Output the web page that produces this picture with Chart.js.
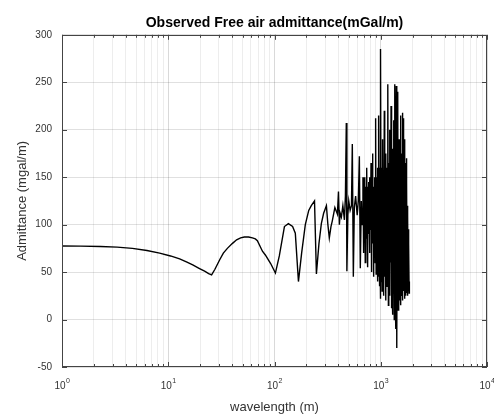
<!DOCTYPE html>
<html>
<head>
<meta charset="utf-8">
<script src="https://cdn.jsdelivr.net/npm/chart.js@4.4.0/dist/chart.umd.min.js"></script>
<style>
  body { margin: 0; background: #fff; }
  #wrap { width: 494px; height: 416px; }
</style>
</head>
<body>
<div id="wrap"><canvas id="admittanceChart"></canvas></div>
<script>
// wavelength (m) and observed free air admittance (mGal/m)
const wavelength = [
  1, 1.5, 2.3, 3.3, 4.6, 6.3, 8.3, 10.5, 12.8, 15, 17, 19.5, 22, 24, 25.6, 27.5, 30.5, 33, 36, 40, 44, 48,
  52, 57, 62, 66, 69, 77, 82, 92, 102, 111, 124, 135, 148, 157, 168,
  180, 195, 210, 222, 238, 248, 262, 276, 290, 308, 318, 328, 340, 350, 370, 391, 400, 408,
  415, 426, 440, 455, 465, 474, 480, 490, 500, 515, 530, 540, 552, 564, 580, 600, 615, 629, 642, 656, 668, 680, 690,
  700, 705, 710, 715, 720, 725, 730, 735, 740, 745, 750, 755, 760, 765, 770, 775, 780, 785, 790, 795,
  800, 805, 810, 815, 820, 825, 830, 835, 840, 845, 850, 855, 860, 865, 870, 875, 880, 885, 890, 895,
  900, 905, 910, 915, 920, 925, 930, 935, 940, 945, 950, 955, 960, 965, 970, 975, 980, 985, 990, 995, 1000,
  1010, 1020, 1030, 1040, 1050, 1060, 1070, 1080, 1090, 1100, 1110, 1120, 1130, 1140, 1150, 1160, 1170, 1180,
  1190, 1200, 1210, 1220, 1230, 1240, 1250, 1260, 1270, 1280, 1290, 1300, 1310, 1320, 1330, 1340, 1350, 1360,
  1370, 1380, 1390, 1400, 1410, 1420, 1430, 1440, 1450, 1460, 1470, 1480, 1490, 1500, 1510, 1520, 1530, 1540,
  1550, 1560, 1570, 1580, 1590, 1600, 1610, 1620, 1630, 1640, 1650, 1660, 1670, 1680, 1690, 1700, 1710, 1720,
  1730, 1740, 1750, 1760, 1770, 1780, 1790, 1800, 1810, 1820, 1830, 1840, 1850, 1860
];
const admittance = [
  77.5, 77.4, 77, 76.3, 75, 72.8, 70, 67, 64, 60.5, 57.5, 54, 51, 48.5, 47, 53, 63, 70, 75, 80, 84, 86,
  87, 87, 86, 85, 83, 72, 68, 59, 49, 67, 98, 101, 98, 91, 40,
  70, 100, 115, 120, 125, 48, 80, 101, 112, 120, 100, 86, 98, 104, 118, 111, 135, 100,
  112, 108, 120, 105, 130, 207, 51, 110, 125, 115, 120, 185, 45, 118, 130, 110, 125, 172, 54, 125, 100, 150, 70,
  150, 90, 135, 60, 140, 95, 130, 85, 160, 100, 140, 55, 135, 90, 145, 100, 130, 70, 150, 95,
  140, 105, 165, 50, 130, 90, 145, 100, 175, 80, 135, 45, 140, 95, 150, 85, 130, 60, 145, 100,
  212, 48, 140, 90, 150, 75, 135, 40, 160, 95, 140, 45, 215, 90, 160, 35, 150, 70, 180, 22, 285,
  40, 160, 30, 190, 60, 150, 25, 220, 45, 140, 20, 175, 70, 160, 35, 130, 248, 15,
  165, 40, 200, 25, 150, 60, 225, 12, 140, 30, 180, 5, 160, 45, 210, 0, 130, 248,
  20, -10, 165, 246, 30, -30, 150, 25, 240, 10, 170, 35, 190, 20, 160, 40, 215, 15,
  150, 30, 175, 25, 140, 218, 20, 160, 35, 212, 30, 150, 22, 190, 40, 165, 25, 150,
  35, 170, 28, 145, 40, 120, 25, 110, 35, 95, 30, 80, 28, 40
];
const xTickValues = [1, 10, 100, 1000, 10000];
const xTickExponents = ['0', '1', '2', '3', '4'];
const yMin = -50, yMax = 300, yStep = 50;

const fontFamily = '"Liberation Sans", Arial, Helvetica, sans-serif';

// MATLAB style box, inward tick marks and 10^n labels
const axesBox = {
  id: 'axesBox',
  afterDraw(chart) {
    const { ctx, chartArea: a, scales: { x, y } } = chart;
    ctx.save();
    ctx.strokeStyle = '#444';
    ctx.lineWidth = 1;
    ctx.strokeRect(Math.round(a.left) + 0.5, Math.round(a.top) + 0.5,
      Math.round(a.width) - 1, Math.round(a.height) - 1);
    ctx.beginPath();
    x.ticks.forEach(t => {
      const px = Math.round(x.getPixelForValue(t.value)) + 0.5;
      const len = xTickValues.includes(t.value) ? 5 : 3;
      ctx.moveTo(px, a.bottom); ctx.lineTo(px, a.bottom - len);
      ctx.moveTo(px, a.top); ctx.lineTo(px, a.top + len);
    });
    y.ticks.forEach(t => {
      const py = Math.round(y.getPixelForValue(t.value)) + 0.5;
      ctx.moveTo(a.left, py); ctx.lineTo(a.left + 5, py);
      ctx.moveTo(a.right, py); ctx.lineTo(a.right - 5, py);
    });
    ctx.stroke();

    // x tick labels as 10 with a raised exponent
    ctx.fillStyle = '#333';
    ctx.textBaseline = 'alphabetic';
    ctx.textAlign = 'left';
    xTickValues.forEach((v, i) => {
      const px = x.getPixelForValue(v);
      ctx.font = '10px ' + fontFamily;
      const wBase = ctx.measureText('10').width;
      ctx.font = '7px ' + fontFamily;
      const wExp = ctx.measureText(xTickExponents[i]).width;
      const startX = px - (wBase + wExp) / 2;
      ctx.font = '10px ' + fontFamily;
      ctx.fillText('10', startX, a.bottom + 22);
      ctx.font = '7px ' + fontFamily;
      ctx.fillText(xTickExponents[i], startX + wBase + 0.5, a.bottom + 16);
    });
    ctx.restore();
  }
};

new Chart(document.getElementById('admittanceChart'), {
  type: 'line',
  data: {
    datasets: [{
      data: wavelength.map((w, i) => ({ x: w, y: admittance[i] })),
      borderColor: '#000',
      borderWidth: 1.4,
      pointRadius: 0,
      tension: 0,
      fill: false
    }]
  },
  plugins: [axesBox],
  options: {
    responsive: true,
    maintainAspectRatio: false,
    animation: false,
    layout: { padding: { left: 0, right: 7, top: 0, bottom: 0 } },
    plugins: {
      legend: { display: false },
      tooltip: { enabled: false },
      title: {
        display: true,
        fullSize: false,
        text: 'Observed Free air admittance(mGal/m)',
        color: '#000',
        font: { family: fontFamily, size: 14, weight: 'bold' },
        padding: { top: 15, bottom: 3 }
      }
    },
    scales: {
      x: {
        type: 'logarithmic',
        min: 1,
        max: 10000,
        afterBuildTicks(scale) {
          const ticks = [];
          for (let d = 1; d < 10000; d *= 10) {
            for (let m = 1; m < 10; m++) ticks.push({ value: d * m });
          }
          ticks.push({ value: 10000 });
          scale.ticks = ticks;
        },
        afterFit(scale) { scale.height = 49; },
        ticks: {
          autoSkip: false,
          maxRotation: 0,
          callback: () => ''
        },
        grid: {
          drawTicks: false,
          color: (ctx) => xTickValues.includes(ctx.tick && ctx.tick.value) ? 'rgba(0,0,0,0.15)' : 'rgba(0,0,0,0.07)'
        },
        border: { display: false },
        title: {
          display: true,
          text: 'wavelength (m)',
          color: '#333',
          font: { family: fontFamily, size: 13 },
          padding: { top: 0, bottom: 1 }
        }
      },
      y: {
        min: yMin,
        max: yMax,
        afterFit(scale) { scale.width = 62; },
        ticks: {
          stepSize: yStep,
          padding: 10,
          color: '#333',
          font: { family: fontFamily, size: 10 }
        },
        grid: { drawTicks: false, color: 'rgba(0,0,0,0.12)' },
        border: { display: false },
        title: {
          display: true,
          text: 'Admittance (mgal/m)',
          color: '#333',
          font: { family: fontFamily, size: 13 },
          padding: { top: 15, bottom: 0 }
        }
      }
    }
  }
});
</script>
</body>
</html>
